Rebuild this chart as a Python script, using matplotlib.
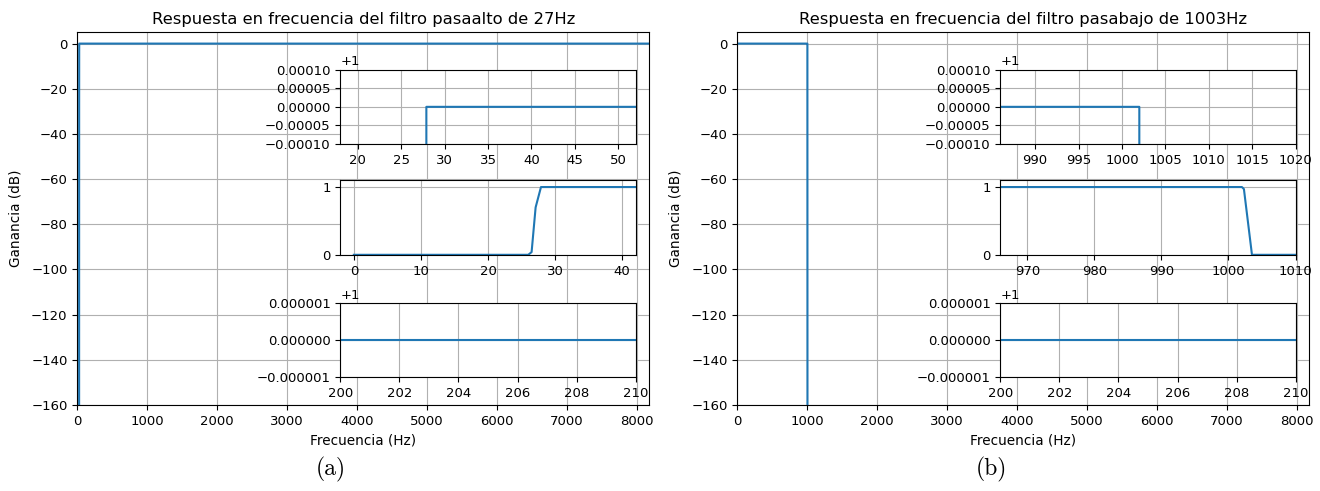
import numpy as np
import matplotlib.pyplot as plt
from matplotlib.ticker import ScalarFormatter

# filtro pasaalto de 27 Hz (ganancia lineal)
hp_freq = [0.0, 26.0, 26.5, 27.1, 27.9, 8192.0]
hp_gain = [1e-9, 1e-9, 0.04, 0.7, 1.0, 1.0]

# filtro pasabajo de 1003 Hz (ganancia lineal)
lp_freq = [0.0, 1002.0, 1002.3, 1003.5, 8192.0]
lp_gain = [1.0, 1.0, 0.97, 1e-9, 1e-9]

titles = ["Respuesta en frecuencia del filtro pasaalto de 27Hz",
          "Respuesta en frecuencia del filtro pasabajo de 1003Hz"]
captions = ["(a)", "(b)"]

# ventanas de los recuadros
zoom_top = [(18, 52), (986, 1020)]
zoom_mid = [(-2, 42), (966, 1010)]
zoom_bot = (200, 210)

plt.rcParams["xtick.labelsize"] = 9.5
plt.rcParams["ytick.labelsize"] = 9.5
plt.rcParams["axes.labelsize"] = 9.8
plt.rcParams["axes.titlesize"] = 11.8


def offset_fmt(ax):
    fmt = ScalarFormatter(useOffset=1.0)
    fmt.set_scientific(False)
    ax.yaxis.set_major_formatter(fmt)


def draw_panel(ax, freq, gain, i):
    freq = np.array(freq)
    gain = np.array(gain)
    db = 20 * np.log10(gain)
    ax.plot(freq, db)
    ax.set_xlim(0, 8180)
    ax.set_ylim(-160, 5)
    ax.set_xticks(np.arange(0, 8001, 1000))
    ax.set_yticks(np.arange(-160, 1, 20))
    ax.grid(True)
    ax.set_title(titles[i])
    ax.set_xlabel("Frecuencia (Hz)")
    ax.set_ylabel("Ganancia (dB)", labelpad=6)

    # recuadro superior: alrededor de 1 +- 1e-4
    a1 = ax.inset_axes([0.46, 0.70, 0.516, 0.2])
    a1.plot(freq, gain)
    a1.set_xlim(*zoom_top[i])
    a1.set_ylim(1 - 1e-4, 1 + 1e-4)
    a1.set_yticks([1 - 1e-4, 1 - 5e-5, 1, 1 + 5e-5, 1 + 1e-4])
    offset_fmt(a1)
    a1.grid(True)

    # recuadro central: transicion
    a2 = ax.inset_axes([0.46, 0.403, 0.516, 0.2])
    a2.plot(freq, gain)
    a2.set_xlim(*zoom_mid[i])
    a2.set_ylim(0, 1.1)
    a2.set_yticks([0, 1])
    a2.grid(True)

    # recuadro inferior: alrededor de 1 +- 1e-6
    a3 = ax.inset_axes([0.46, 0.074, 0.516, 0.2])
    a3.plot(freq, gain)
    a3.set_xlim(*zoom_bot)
    a3.set_xticks(np.arange(200, 211, 2))
    a3.set_ylim(1 - 1e-6, 1 + 1e-6)
    a3.set_yticks([1 - 1e-6, 1, 1 + 1e-6])
    offset_fmt(a3)
    a3.grid(True)


fig = plt.figure(figsize=(13.2, 4.91), dpi=100)
ax_a = fig.add_axes([77.3 / 1320, 86 / 491, 572 / 1320, 372.7 / 491])
ax_b = fig.add_axes([737.3 / 1320, 86 / 491, 572 / 1320, 372.7 / 491])

draw_panel(ax_a, hp_freq, hp_gain, 0)
draw_panel(ax_b, lp_freq, lp_gain, 1)

for k, cx in enumerate([331, 991]):
    fig.text(cx / 1320, 22 / 491, captions[k], ha="center", va="center",
             fontsize=17, family="cmr10")

fig.savefig("out.png", dpi=100)
